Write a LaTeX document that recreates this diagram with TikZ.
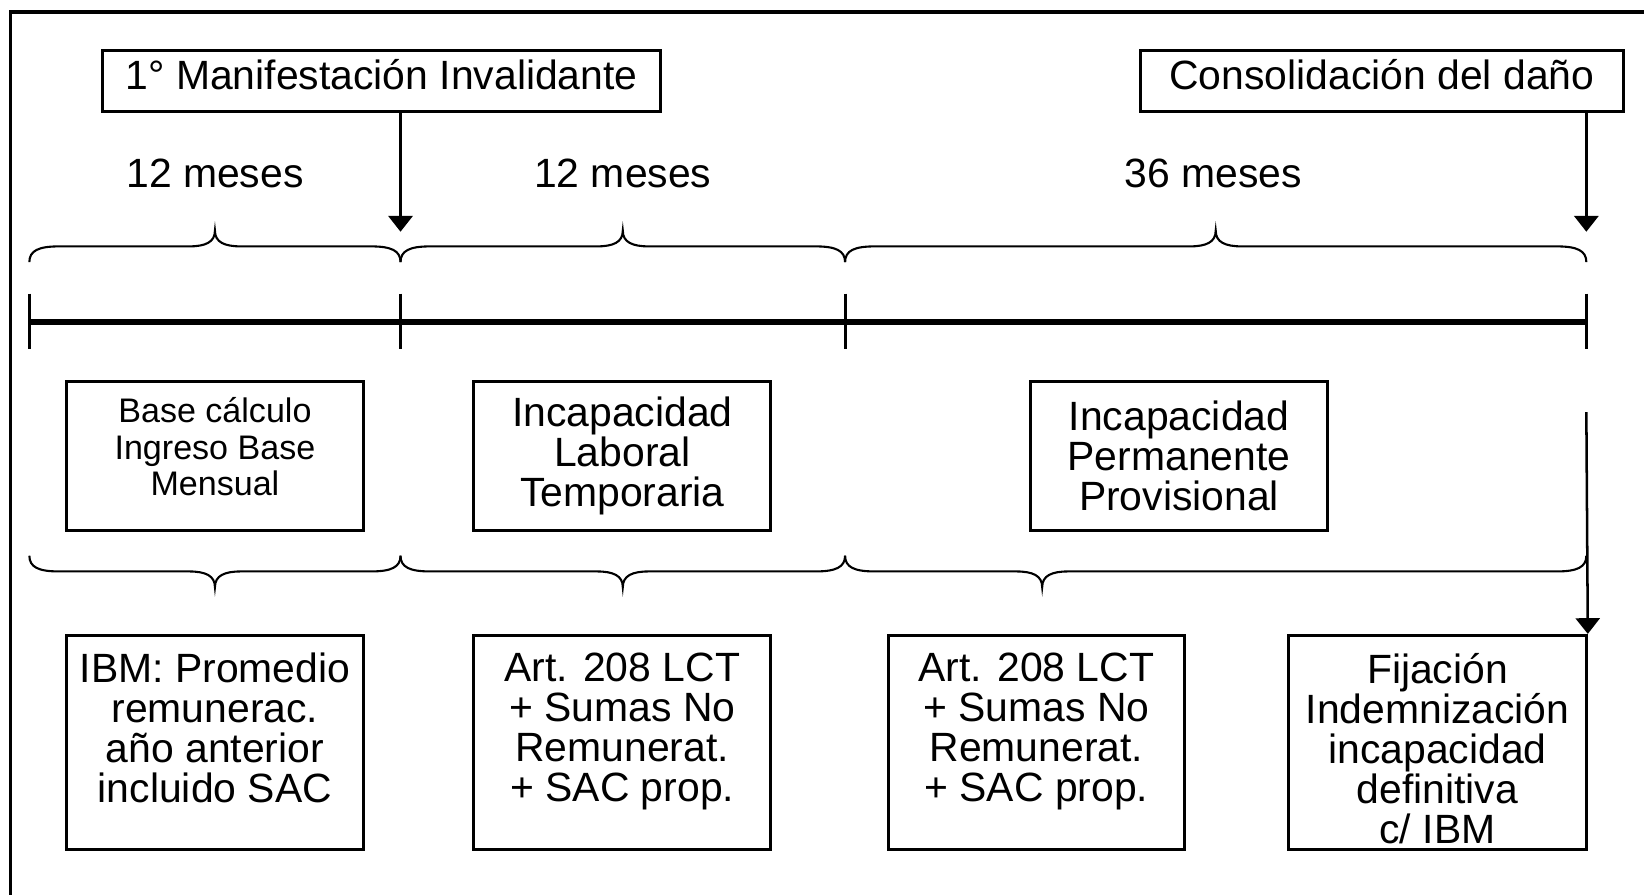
\documentclass[tikz,border=0pt]{standalone}
\usepackage{fontspec}
\setmainfont{Liberation Sans}
\usetikzlibrary{arrows.meta}
\begin{document}
\begin{tikzpicture}[x=0.5pt,y=-0.5pt,
  box/.style={draw, line width=1.4pt, inner sep=0pt, align=center},
  txt/.style={align=center, inner sep=0pt, font=\fontsize{19.5}{19.1}\selectfont},
  small/.style={align=center, inner sep=0pt, font=\fontsize{16.25}{17.25}\selectfont},
  brace/.style={line width=1pt},
  arr/.style={line width=1.2pt, -{Triangle[length=7.5pt,width=11.5pt]}},
]
\useasboundingbox (0,0) rectangle (1568,853);
% frame (open at right and bottom)
\draw[line width=1.5pt] (10,870) -- (10,11.5) -- (1590,11.5);

% timeline points
\coordinate (t0) at (28,307);
\coordinate (t1) at (382,307);
\coordinate (t2) at (806,307);
\coordinate (t3) at (1513,307);
\draw[line width=3pt] (t0) -- (t3);
\foreach \x in {28,382,806,1513} \draw[line width=1.4pt] (\x,280) -- (\x,333);

% top boxes
\node[box, txt, text height=14pt, text depth=6pt, minimum width=266pt, minimum height=29pt] (manif) at (364,77) {1° Manifestación Invalidante};
\node[box, txt, text height=14pt, text depth=6pt, minimum width=230pt, minimum height=29pt] (conso) at (1318,77) {Consolidación del daño};

% period labels
\node[txt] (m1) at (205,165) {12 meses};
\node[txt] (m2) at (594,165) {12 meses};
\node[txt] (m3) at (1157,165) {36 meses};

% top braces
\foreach \a/\m/\b in {28/205/382, 382/594/806, 806/1159.5/1513}
  \draw[brace] (\a,250) .. controls (\a,239) and (\a+9,235) .. (\a+28,235) -- (\m-25,235)
    .. controls (\m-9,235) and (\m,231) .. (\m,220)
    .. controls (\m,231) and (\m+9,235) .. (\m+25,235) -- (\b-28,235)
    .. controls (\b-9,235) and (\b,239) .. (\b,250);

% bottom braces
\foreach \a/\m/\b in {28/205/382, 382/594/806, 806/994/1513}
  \draw[brace] (\a,530) .. controls (\a,541) and (\a+9,545) .. (\a+28,545) -- (\m-25,545)
    .. controls (\m-9,545) and (\m,549) .. (\m,560)
    .. controls (\m,549) and (\m+9,545) .. (\m+25,545) -- (\b-28,545)
    .. controls (\b-9,545) and (\b,541) .. (\b,530);

% middle boxes
\node[box, minimum width=142pt, minimum height=71pt] (p1) at (205,435) {};
\node[small] (p1t) at ([yshift=4.5pt]p1.center) {Base cálculo\\Ingreso Base\\Mensual};
\node[box, txt, minimum width=141.5pt, minimum height=71pt] (p2) at (593.5,435) {Incapacidad\\Laboral\\Temporaria};
\node[box, txt, minimum width=141.5pt, minimum height=71pt] (p3) at (1124.5,435) {Incapacidad\\Permanente\\Provisional};

% bottom boxes
\node[box, minimum width=142pt, minimum height=102pt] (b1) at (205,708) {};
\node[box, minimum width=141.5pt, minimum height=102pt] (b2) at (593.5,708) {};
\node[box, minimum width=141.5pt, minimum height=102pt] (b3) at (988.5,708) {};
\node[box, minimum width=142pt, minimum height=102pt] (b4) at (1371,708) {};
\node[txt, anchor=north] (l1) at ([yshift=-9pt]b1.north) {IBM: Promedio\\remunerac.\\año anterior\\incluido SAC};
\node[txt, anchor=north] (l2) at ([yshift=-9pt]b2.north) {Art. 208 LCT\\+ Sumas No\\Remunerat.\\+ SAC prop.};
\node[txt, anchor=north] (l3) at ([yshift=-9pt]b3.north) {Art. 208 LCT\\+ Sumas No\\Remunerat.\\+ SAC prop.};
\node[txt, anchor=north] (l4) at ([yshift=-9pt]b4.north) {Fijación\\Indemnización\\incapacidad\\definitiva\\c/ IBM};

% arrows
\coordinate (tipA) at (382,221);
\coordinate (tipB) at (1513,221);
\coordinate (startC) at (1513,393);
\draw[arr] (manif.south -| t1) -- (tipA);
\draw[arr] (conso.south -| t3) -- (tipB);
\draw[arr] (startC) -- (b4.north east);
\end{tikzpicture}
\end{document}
